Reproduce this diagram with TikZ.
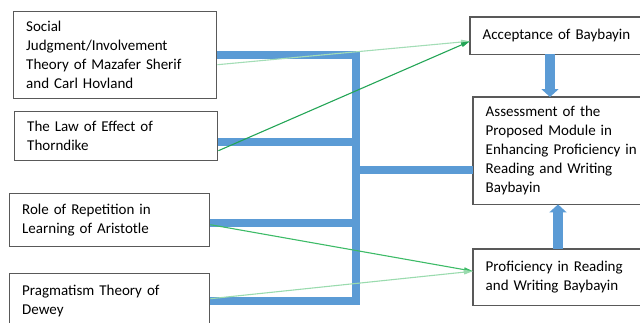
\documentclass[tikz,border=0pt]{standalone}
\usepackage{fontspec}
\setmainfont{Carlito}
\usetikzlibrary{arrows.meta}
\definecolor{bblue}{HTML}{5B9BD5}
\definecolor{bord}{HTML}{595959}
\definecolor{gA}{HTML}{A3DDB6}
\definecolor{gB}{HTML}{23A556}
\definecolor{gC}{HTML}{3DBB67}
\definecolor{gD}{HTML}{9ADBAE}
\begin{document}
\begin{tikzpicture}[x=1pt,y=-1pt,
  txt/.style={anchor=north west, align=left,
    inner xsep=12.5pt, inner ysep=0pt,
    font=\fontsize{15}{19}\selectfont},
  box/.style={txt, draw=bord, line width=1.4pt},
  openbox/.style={draw=bord, line width=1.4pt, line join=miter},
  blueline/.style={draw=bblue, line width=8pt, line join=miter},
  bluearrow/.style={draw=bblue, line width=10pt, -{Triangle[width=17pt,length=8pt]}},
  gline/.style={line width=1.1pt, -{Triangle[width=4.5pt,length=9pt]}}
]
\useasboundingbox (0,0) rectangle (640,322);
\clip (0,0) rectangle (640,322);
% left boxes
\node[box, text width=178pt, minimum height=87pt] (b1) at (13,11)
  {Social\\Judgment/Involvement\\Theory of Mazafer Sherif\\and Carl Hovland};
\node[box, text width=178pt, minimum height=49pt] (b2) at (14,111)
  {The Law of Effect of\\Thorndike};
\node[box, text width=175pt, minimum height=53pt] (b3) at (9,193)
  {Role of Repetition in\\Learning of Aristotle};
\node[box, text width=175pt, minimum height=54pt] (b4) at (9,273)
  {Pragmatism Theory of\\Dewey};
% right boxes (their right side runs past the picture's edge)
\node[txt, text width=210pt, minimum height=37pt] (a1) at (470,17)
  {Acceptance of Baybayin};
\node[txt, text width=210pt, minimum height=107pt] (a2) at (473,97)
  {Assessment of the\\Proposed Module in\\Enhancing Proficiency in\\Reading and Writing\\Baybayin};
\node[txt, text width=210pt, minimum height=56pt] (a3) at (473,249)
  {Proficiency in Reading\\and Writing Baybayin};
\foreach \n in {a1,a2,a3}
  \draw[openbox] (\n.north west -| 700,0) -- (\n.north west) -- (\n.south west) -- (\n.south west -| 700,0);
% junction coordinates
\coordinate (jb) at (356,301);
\coordinate (ja) at (356,170);
% blue connectors
\draw[blueline] ([yshift=0.5pt]b1.east) -| (jb) -- (b4.east |- jb);
\draw[blueline] ([yshift=-5.5pt]b2.east) -- ([yshift=-5.5pt]b2.east -| jb);
\draw[blueline] ([yshift=-2.5pt]b3.east) -- ([yshift=-2.5pt]b3.east -| jb);
\draw[blueline] ([xshift=-4pt]ja) -- (ja -| a2.west);
% blue block arrows
\draw[bluearrow] (a1.south -| 550,0) -- (a2.north -| 550,0);
\draw[bluearrow] (a3.north -| 558,0) -- (a2.south -| 558,0);
% green connectors
\draw[gline, gA] ([yshift=-9.5pt]b1.east) -- ([yshift=-5.5pt]a1.west);
\draw[gline, gB] ([yshift=-14.5pt]b2.east) -- ([yshift=-5.5pt]a1.west);
\draw[gline, gC] ([yshift=-4.5pt]b3.east) -- ([yshift=6pt]a3.west);
\draw[gline, gD] ([yshift=2pt]b4.east) -- ([yshift=6pt]a3.west);
\end{tikzpicture}
\end{document}
